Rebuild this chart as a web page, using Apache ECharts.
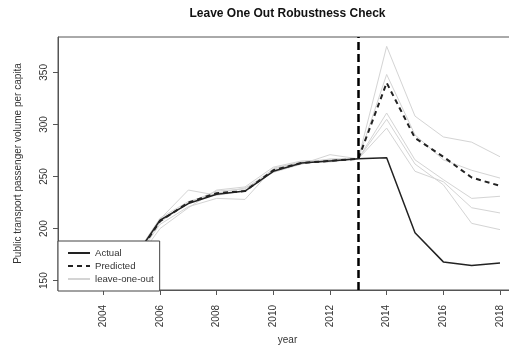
<!DOCTYPE html>
<html>
<head>
<meta charset="utf-8">
<script src="https://cdn.jsdelivr.net/npm/echarts@6/dist/echarts.min.js"></script>
<style>
  html, body { margin: 0; padding: 0; background: #fff; }
  #chart { width: 509px; height: 347px; }
</style>
</head>
<body>
<div id="chart"></div>
<script>
// Years covered by the series
const years = [2003, 2004, 2005, 2006, 2007, 2008, 2009, 2010, 2011, 2012, 2013, 2014, 2015, 2016, 2017, 2018];

// Observed and synthetic (predicted) passenger volume per capita
const actual    = [150, 158, 168, 208, 224, 233, 236, 255, 263, 265, 267, 268, 196, 168, 164.5, 167];
const predicted = [150, 158, 167, 207, 225, 234, 236, 256, 263, 265, 267, 340, 287, 269, 249, 241];

// Leave-one-out re-estimations
const loo1 = [150, 158, 167, 206, 225, 236, 238, 257, 264, 266, 267, 375, 308, 288, 283, 269];
const loo2 = [151, 159, 168, 209, 237, 232, 236, 256, 262, 271, 267, 348, 290, 266, 256, 248.5];
const loo3 = [149, 157, 166, 204, 221, 229, 228, 258, 264, 264, 267, 311, 266, 247, 229, 231];
const loo4 = [150, 158, 169, 210, 226, 234, 239, 254, 262, 267, 267, 296.5, 255, 245, 220, 215];
const loo5 = [148, 156, 163, 200, 220, 237, 240, 259, 265, 266, 267, 305, 262, 242, 205, 199];

// Axis ticks
const xTicks = [2004, 2006, 2008, 2010, 2012, 2014, 2016, 2018];
const yTicks = [150, 200, 250, 300, 350];
const treatYear = 2013;

const pair = arr => years.map((y, i) => [y, arr[i]]);
const FONT = 'Liberation Sans, Arial, sans-serif';

const looColor = '#d4d4d4';
const looSeries = [loo1, loo2, loo3, loo4, loo5].map(arr => ({
  name: 'leave-one-out',
  type: 'line',
  data: pair(arr),
  symbol: 'none',
  z: 2,
  lineStyle: { color: looColor, width: 1 },
  itemStyle: { color: looColor }
}));

const chart = echarts.init(document.getElementById('chart'), null, { renderer: 'canvas' });
chart.setOption({
  animation: false,
  backgroundColor: '#fff',
  title: {
    text: 'Leave One Out Robustness Check',
    left: 287.5,
    textAlign: 'center',
    top: 8,
    padding: 0,
    textStyle: { fontFamily: FONT, fontSize: 12, fontWeight: 'bold', color: '#111' }
  },
  legend: {
    orient: 'vertical',
    left: 58,
    top: 241,
    z: 20,
    padding: [7, 6, 7, 9],
    itemWidth: 22,
    itemHeight: 11,
    itemGap: 3,
    backgroundColor: '#fff',
    borderColor: '#444',
    borderWidth: 1,
    borderRadius: 0,
    itemStyle: { color: 'transparent', borderColor: 'transparent', borderWidth: 0, opacity: 0 },
    data: ['Actual', 'Predicted', 'leave-one-out'],
    textStyle: { fontFamily: FONT, fontSize: 9.6, color: '#333' }
  },
  grid: {
    left: 58, top: 37, width: 459, height: 253,
    outerBoundsMode: 'none',
    containLabel: false,
    show: true, borderColor: '#555', borderWidth: 1, backgroundColor: 'transparent'
  },
  xAxis: {
    type: 'value',
    min: 2002.4,
    max: 2018.6,
    name: 'year',
    nameLocation: 'middle',
    nameGap: 45,
    nameMoveOverlap: false,
    nameTextStyle: { fontFamily: FONT, fontSize: 10, color: '#333' },
    axisLine: { show: true, lineStyle: { color: '#555', width: 1 } },
    axisTick: { show: true, length: 5, customValues: xTicks, lineStyle: { color: '#555' } },
    axisLabel: {
      customValues: xTicks,
      rotate: 90,
      margin: 15,
      fontFamily: FONT,
      fontSize: 10,
      color: '#333',
      formatter: v => String(v)
    },
    splitLine: { show: false }
  },
  yAxis: {
    type: 'value',
    min: 141,
    max: 384,
    name: 'Public transport passenger volume per capita',
    nameLocation: 'middle',
    nameRotate: 90,
    nameGap: 35,
    nameMoveOverlap: false,
    nameTextStyle: { fontFamily: FONT, fontSize: 10, color: '#333' },
    axisLine: { show: true, lineStyle: { color: '#555', width: 1 } },
    axisTick: { show: true, length: 5, customValues: yTicks, lineStyle: { color: '#555' } },
    axisLabel: {
      customValues: yTicks,
      rotate: 90,
      margin: 9,
      fontFamily: FONT,
      fontSize: 10,
      color: '#333',
      formatter: v => String(v)
    },
    splitLine: { show: false }
  },
  series: [
    ...looSeries,
    {
      name: 'Actual',
      type: 'line',
      data: pair(actual),
      symbol: 'none',
      z: 2,
      lineStyle: { color: '#222', width: 1.5 },
      itemStyle: { color: '#222' }
    },
    {
      name: 'Predicted',
      type: 'line',
      data: pair(predicted),
      symbol: 'none',
      z: 2,
      lineStyle: { color: '#222', width: 2, type: [5, 4] },
      itemStyle: { color: '#222' },
      markLine: {
        silent: true,
        symbol: 'none',
        label: { show: false },
        lineStyle: { color: '#000', width: 2.5, type: [8, 4] },
        data: [{ xAxis: treatYear }]
      }
    }
  ]
});
</script>
</body>
</html>
